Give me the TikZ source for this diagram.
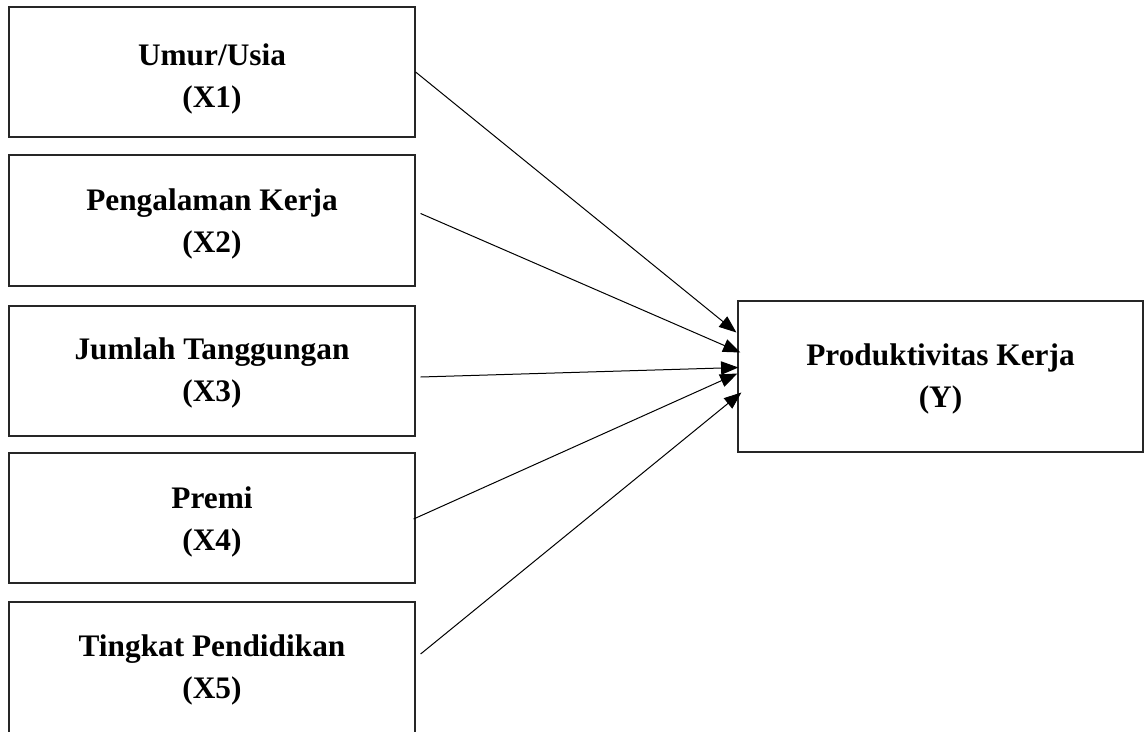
\documentclass[tikz,border=0pt]{standalone}
\usepackage{fontspec}
\setmainfont{Liberation Serif}
\usetikzlibrary{calc,arrows.meta}
\begin{document}
\begin{tikzpicture}[x=0.75pt,y=-0.75pt,
  varbox/.style={draw=black!85,line width=0.9pt,minimum width=406*0.75pt,minimum height=130*0.75pt,
    inner sep=0pt,align=center,font=\fontsize{23.5pt}{31.5pt}\selectfont\bfseries,text depth=5.1pt},
  down/.style={text height=46.5pt+1.5pt*#1},
  conn/.style={line width=0.75pt,-{Triangle[length=13pt,width=10pt]}}]
\useasboundingbox (0,0) rectangle (1144,731);
\clip (0,0) rectangle (1144,731);
\fill[white] (0,0) rectangle (1144,731);
\node[varbox,down=8] (x1) at (212,72) {Umur/Usia\\(X1)};
\node[varbox,down=4,minimum height=131*0.75pt] (x2) at (212,220.5) {Pengalaman Kerja\\(X2)};
\node[varbox,down=3] (x3) at (212,371) {Jumlah Tanggungan\\(X3)};
\node[varbox,down=5] (x4) at (212,518) {Premi\\(X4)};
\node[varbox,down=2,minimum height=134*0.75pt] (x5) at (212,669) {Tingkat Pendidikan\\(X5)};
\node[varbox,down=3,minimum width=405*0.75pt,minimum height=151*0.75pt] (y) at (940.5,376.5) {Produktivitas Kerja\\(Y)};
\draw[conn] (x1.east) -- ($(y.west)+(-1,-44)$);
\draw[conn] ($(x2.east)+(5,-7)$) -- ($(y.west)+(3,-24)$);
\draw[conn] ($(x3.east)+(5,6)$) -- ($(y.west)+(1,-9)$);
\draw[conn] ($(x4.east)+(-2,1)$) -- ($(y.west)+(0,-3)$);
\draw[conn] ($(x5.east)+(5,-15)$) -- ($(y.west)+(4,16)$);
\end{tikzpicture}
\end{document}
